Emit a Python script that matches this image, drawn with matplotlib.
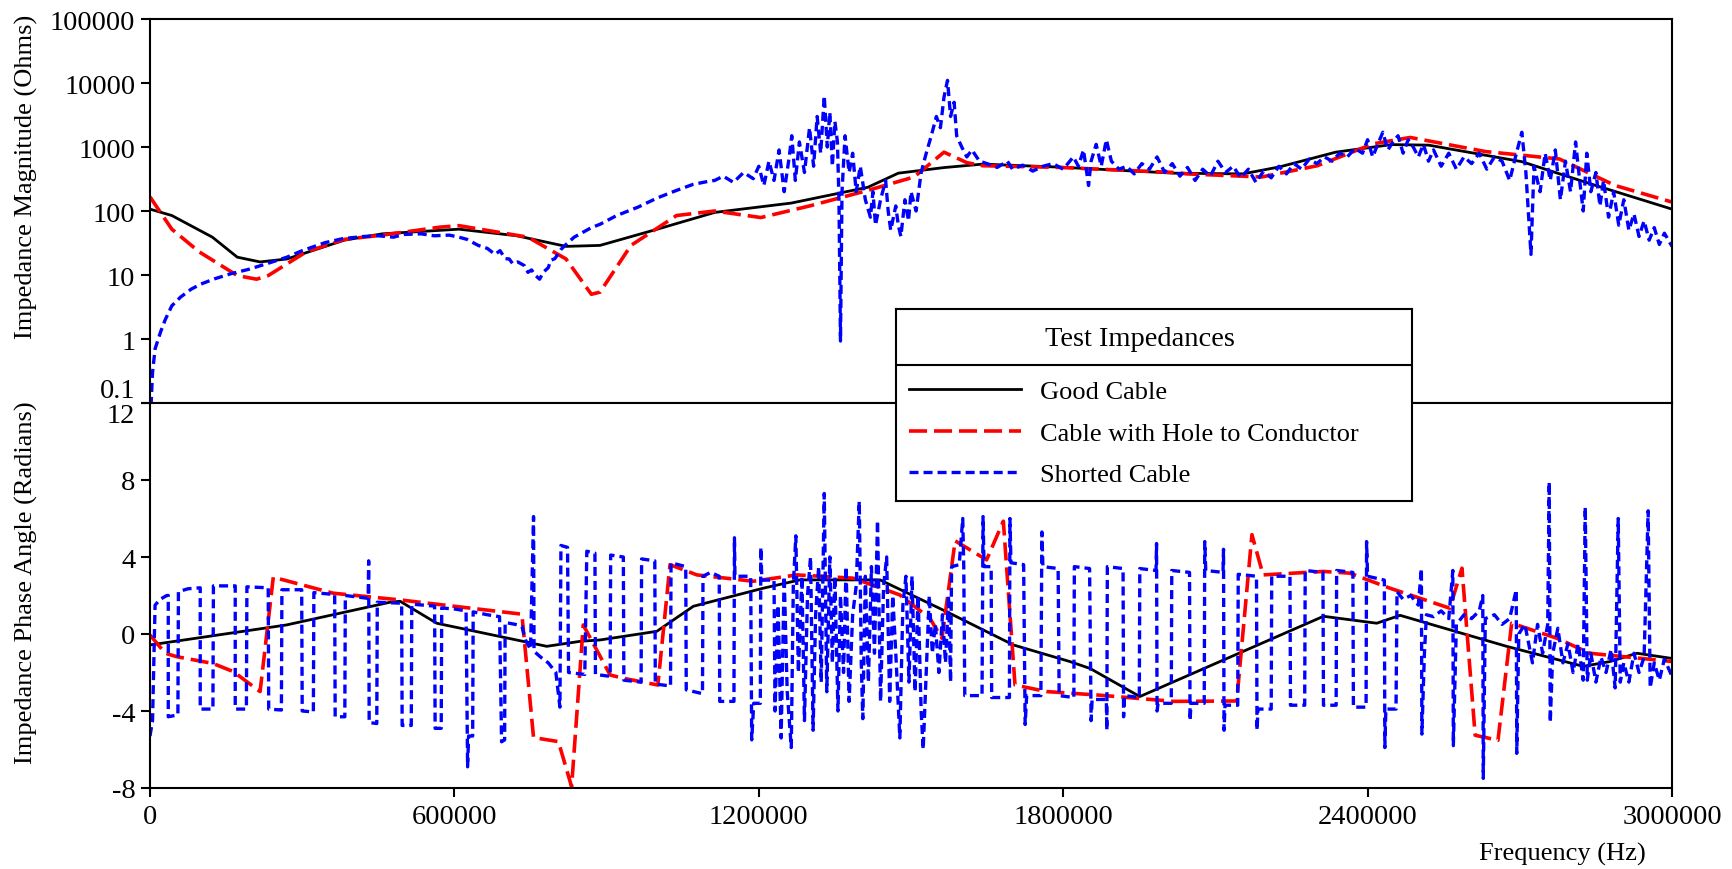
import matplotlib
matplotlib.use("Agg")
import matplotlib.pyplot as plt

plt.rcParams['font.family'] = ['Liberation Serif', 'DejaVu Serif']
plt.rcParams['lines.scale_dashes'] = False

# ---------------- data (frequency in kHz) ----------------
series_labels = ["Good Cable", "Cable with Hole to Conductor", "Shorted Cable"]
legend_title = "Test Impedances"
x_label = "Frequency (Hz)"
mag_label = "Impedance Magnitude (Ohms)"
phase_label = "Impedance Phase Angle (Radians)"

mag_ticks = [0.1, 1, 10, 100, 1000, 10000, 100000]
mag_tick_labels = ["0.1", "1", "10", "100", "1000", "10000", "100000"]
phase_ticks = [-8, -4, 0, 4, 8, 12]
freq_ticks = [0, 600000, 1200000, 1800000, 2400000, 3000000]

good_mag = [(0, 107), (43, 85), (123, 39), (172, 19), (217, 16), (270, 17.8), (383, 35),
            (458, 44), (609, 52), (723, 41), (820, 28), (887, 29), (1000, 52), (1113, 95),
            (1264, 133), (1415, 235), (1475, 390), (1565, 477), (1641, 540), (1792, 485),
            (2018, 390), (2154, 380), (2227, 490), (2337, 830), (2447, 1090), (2520, 1070),
            (2704, 590), (2850, 250), (3000, 107)]

hole_mag = [(0, 166), (43, 52), (97, 23), (172, 9.8), (210, 8.6), (233, 9.8), (308, 23),
            (383, 36), (458, 42), (572, 56), (609, 59), (745, 39), (820, 17.8), (870, 5.0),
            (887, 5.4), (948, 29), (1038, 85), (1113, 100), (1204, 79), (1302, 121),
            (1415, 210), (1506, 340), (1565, 830), (1610, 570), (1641, 510), (1792, 480),
            (2018, 400), (2044, 380), (2191, 340), (2301, 510), (2411, 1120), (2484, 1410),
            (2632, 850), (2778, 650), (2888, 250), (3000, 138)]

short_mag = [(2, 0.09), (5, 0.3), (10, 0.7), (21, 1.3), (30, 2.0), (43, 3.3), (60, 4.5),
             (81, 6.0), (100, 7.2), (127, 8.7), (160, 10.5), (195, 12.3), (230, 15),
             (270, 19), (300, 24), (345, 32), (380, 37), (421, 40), (450, 41), (480, 39),
             (500, 43), (534, 44), (560, 41), (590, 42), (609, 39), (625, 36), (647, 29),
             (665, 26), (680, 21), (690, 24), (700, 18), (708, 17.8), (715, 15), (725, 16),
             (738, 14), (745, 11), (752, 12), (760, 9.8), (768, 8.6), (775, 11), (785, 13),
             (790, 17), (798, 18), (810, 25), (820, 30), (836, 39), (850, 45), (870, 55),
             (887, 62), (920, 85), (962, 115), (1000, 160), (1038, 210), (1070, 260),
             (1100, 290), (1113, 300), (1130, 350), (1150, 280), (1170, 400), (1189, 320),
             (1200, 500), (1210, 250), (1220, 600), (1230, 300), (1240, 900), (1250, 200),
             (1260, 700), (1265, 1500), (1272, 300), (1280, 1200), (1290, 400), (1300, 2000),
             (1308, 500), (1315, 3000), (1322, 800), (1329, 6300), (1335, 1000), (1340, 3500),
             (1345, 500), (1350, 2500), (1355, 1200), (1358, 150), (1361, 0.93), (1364, 200),
             (1370, 1500), (1378, 400), (1385, 800), (1392, 200), (1400, 500), (1410, 150),
             (1420, 80), (1425, 200), (1430, 60), (1440, 150), (1450, 300), (1455, 100),
             (1460, 50), (1470, 120), (1475, 60), (1480, 40), (1488, 150), (1495, 70),
             (1500, 200), (1510, 100), (1520, 400), (1530, 800), (1540, 1500), (1550, 3000),
             (1558, 2000), (1565, 6000), (1572, 11000), (1578, 3000), (1585, 5000),
             (1590, 1500), (1600, 1000), (1610, 700), (1620, 900), (1635, 600), (1650, 550),
             (1670, 480), (1690, 600), (1700, 450), (1720, 520), (1740, 420), (1760, 500),
             (1780, 550), (1800, 450), (1820, 700), (1830, 500), (1840, 900), (1850, 250),
             (1855, 600), (1865, 1100), (1875, 500), (1885, 1300), (1895, 600), (1910, 450),
             (1925, 500), (1940, 380), (1955, 550), (1970, 450), (1985, 700), (2000, 400),
             (2015, 550), (2030, 350), (2045, 480), (2060, 300), (2075, 450), (2090, 350),
             (2105, 600), (2120, 400), (2135, 500), (2150, 330), (2165, 450), (2180, 280),
             (2195, 420), (2210, 330), (2225, 500), (2240, 380), (2255, 550), (2270, 450),
             (2285, 650), (2300, 550), (2315, 700), (2330, 600), (2345, 800), (2360, 700),
             (2375, 950), (2390, 800), (2400, 1300), (2410, 700), (2420, 1100), (2430, 1700),
             (2440, 900), (2450, 1200), (2460, 1500), (2470, 800), (2480, 1300), (2490, 1000),
             (2500, 700), (2510, 1100), (2520, 600), (2530, 900), (2545, 500), (2560, 800),
             (2575, 450), (2590, 700), (2605, 550), (2620, 800), (2635, 450), (2650, 700),
             (2665, 600), (2680, 300), (2695, 900), (2704, 1700), (2712, 400), (2722, 21),
             (2728, 500), (2740, 200), (2750, 800), (2760, 300), (2770, 900), (2780, 150),
             (2790, 600), (2800, 200), (2810, 1200), (2818, 300), (2825, 100), (2832, 800),
             (2840, 200), (2850, 400), (2858, 120), (2865, 300), (2875, 80), (2885, 200),
             (2895, 60), (2905, 150), (2915, 50), (2925, 90), (2935, 40), (2945, 70),
             (2955, 35), (2965, 55), (2975, 30), (2985, 45), (3000, 28)]

good_phase = [(0, -0.57), (269, 0.47), (473, 1.65), (493, 1.7), (565, 0.56), (782, -0.64),
              (848, -0.38), (887, -0.31), (999, 0.14), (1071, 1.44), (1209, 2.38),
              (1281, 2.81), (1439, 2.81), (1570, 1.16), (1702, -0.57), (1813, -1.43),
              (1853, -1.79), (1951, -3.25), (2313, 0.92), (2418, 0.56), (2464, 0.97),
              (2674, -0.64), (2825, -1.68), (2878, -1.43), (2931, -1.0), (3000, -1.27)]

hole_phase = [(0, -0.05), (30, -1.0), (53, -1.18), (124, -1.53), (164, -1.95), (217, -2.99),
              (243, 2.95), (361, 2.12), (493, 1.77), (733, 1.03), (756, -5.38), (805, -5.59),
              (831, -7.93), (854, 0.47), (907, -2.13), (933, -2.3), (1001, -2.65),
              (1025, 3.6), (1078, 3.07), (1189, 2.74), (1275, 3.07), (1386, 2.9), (1478, 2.03),
              (1537, 0.82), (1561, -0.22), (1587, 4.84), (1649, 3.85), (1682, 5.86),
              (1705, -2.65), (1767, -2.99), (1873, -3.18), (2017, -3.5), (2142, -3.48),
              (2172, 5.16), (2194, 3.07), (2313, 3.25), (2365, 3.16), (2444, 2.38),
              (2562, 1.34), (2586, 3.42), (2612, -5.26), (2657, -5.52), (2684, 0.56),
              (2773, -0.22), (2838, -1.0), (3000, -1.43)]

short_phase = [(0, -5.3), (5, -4.5), (10, 1.5), (20, 1.8), (33, 2.0), (36, 2.0), (36, -4.3),
               (55, -4.2), (56, 2.2), (75, 2.35), (99, 2.4), (99, -3.9), (124, -3.9),
               (125, 2.5), (168, 2.5), (168, -3.9), (190, -3.9), (191, 2.45), (233, 2.4),
               (234, -3.9), (259, -3.95), (260, 2.3), (299, 2.3), (300, -4.0), (322, -4.05),
               (323, 2.15), (364, 2.05), (365, -4.3), (384, -4.3), (385, 2.0), (430, 1.85),
               (431, 3.8), (432, -4.6), (447, -4.65), (448, 1.65), (496, 1.6), (497, -4.75),
               (515, -4.75), (516, 1.55), (561, 1.45), (562, -4.9), (574, -4.9), (575, 1.35),
               (600, 1.3), (623, 1.2), (626, -6.9), (628, -5.3), (636, -5.3), (637, 1.15),
               (665, 1.0), (689, 0.9), (693, -5.6), (699, -5.5), (700, 0.6), (720, 0.5),
               (733, 0.4), (740, -0.3), (750, -0.8), (756, 6.1), (757, -0.9), (770, -1.2),
               (785, -1.5), (800, -2.0), (808, -3.8), (810, 4.6), (823, 4.5), (825, -2.0),
               (857, -2.1), (861, 4.3), (877, 4.2), (878, -2.1), (907, -2.2), (908, 4.1),
               (933, 4.0), (934, -2.4), (968, -2.5), (969, 3.9), (995, 3.8), (996, -2.6),
               (1026, -2.7), (1027, 3.7), (1056, 3.5), (1057, -2.9), (1089, -3.1), (1090, 3.0),
               (1105, 3.2), (1122, 3.0), (1123, -3.5), (1151, -3.5), (1152, 5.0), (1153, 3.0),
               (1184, 3.0), (1186, -5.5), (1190, -3.6), (1203, -3.6), (1204, 4.5), (1206, 2.8),
               (1230, 2.8), (1232, -4.0), (1238, 1.5), (1244, -5.4), (1250, 3.0), (1256, -3.0),
               (1264, -5.9), (1268, 2.5), (1273, 5.1), (1278, -2.0), (1285, 3.0), (1290, -4.5),
               (1296, 2.0), (1302, 4.0), (1307, -5.0), (1312, 1.0), (1318, 3.5), (1323, -2.5),
               (1329, 7.3), (1334, -3.0), (1340, 4.0), (1345, -1.5), (1350, 3.0), (1356, -4.0),
               (1361, 2.0), (1367, -2.0), (1372, 3.5), (1378, -3.5), (1385, 1.0), (1392, 2.5),
               (1398, 6.9), (1402, -1.5), (1405, -4.4), (1410, 3.0), (1416, -2.5), (1422, 3.5),
               (1428, -1.0), (1434, 5.9), (1440, -3.5), (1446, 2.5), (1452, 4.0), (1458, -3.5),
               (1464, 2.0), (1470, -1.0), (1478, -5.4), (1484, 1.5), (1490, 3.0), (1496, -2.5),
               (1502, 3.0), (1508, -3.0), (1514, 2.0), (1520, -4.0), (1524, -6.0), (1530, -2.0),
               (1536, 2.0), (1542, -1.0), (1548, 0.5), (1555, -2.0), (1562, 1.0), (1568, -1.5),
               (1574, 2.0), (1578, -2.5), (1580, 3.5), (1595, 3.6), (1602, 6.0), (1604, 3.5),
               (1606, -3.2), (1640, -3.2), (1642, 6.1), (1644, 3.5), (1658, 3.5), (1659, -3.3),
               (1694, -3.3), (1695, 6.0), (1697, 3.7), (1722, 3.6), (1725, -4.7), (1728, -3.2),
               (1756, -3.2), (1758, 5.3), (1760, 3.5), (1790, 3.4), (1792, -3.2), (1821, -3.3),
               (1822, 3.5), (1852, 3.4), (1855, -4.5), (1857, -3.4), (1885, -3.4), (1886, -5.0),
               (1887, 3.5), (1918, 3.4), (1919, -4.3), (1921, -3.2), (1950, -3.3), (1951, 3.4),
               (1983, 3.3), (1984, 4.7), (1985, -4.0), (1987, -3.6), (2013, -3.6), (2014, 3.3),
               (2049, 3.2), (2050, -4.5), (2052, -3.6), (2078, -3.6), (2079, 4.8), (2081, 3.3),
               (2115, 3.2), (2116, 4.4), (2117, -5.0), (2119, -3.7), (2144, -3.7), (2145, 3.1),
               (2181, 3.0), (2182, -5.0), (2184, -3.9), (2210, -3.9), (2211, 3.0), (2247, 3.0),
               (2248, -3.7), (2276, -3.7), (2277, 3.3), (2312, 3.2), (2313, -3.7), (2338, -3.7),
               (2339, 3.3), (2371, 3.2), (2372, -3.8), (2397, -3.8), (2398, 4.8), (2400, 3.0),
               (2433, 2.8), (2434, -5.9), (2436, -3.9), (2456, -3.9), (2458, 2.2), (2470, 1.8),
               (2485, 2.0), (2500, 1.5), (2506, 3.4), (2507, -5.2), (2512, -1.0), (2516, 1.0),
               (2530, 0.9), (2545, 1.2), (2560, 0.8), (2568, 3.3), (2569, -5.8), (2575, 0.5),
               (2590, 1.0), (2605, 0.8), (2620, 1.2), (2627, 2.0), (2628, -7.5), (2632, 0.8),
               (2650, 1.0), (2665, 0.5), (2680, 0.8), (2693, 2.3), (2694, -6.2), (2698, 0.0),
               (2710, 0.5), (2725, -1.5), (2735, 0.5), (2745, -1.0), (2755, 0.5), (2758, 7.9),
               (2760, -4.6), (2765, -1.0), (2775, 0.3), (2785, -1.5), (2795, -0.5), (2805, -2.0),
               (2815, -0.5), (2825, -2.4), (2829, 6.6), (2833, -2.4), (2840, -1.0), (2850, -2.5),
               (2860, -1.2), (2870, -2.0), (2880, -0.8), (2888, -2.8), (2894, 6.0), (2898, -2.5),
               (2905, -1.5), (2915, -2.5), (2925, -1.0), (2935, -2.0), (2945, -1.2), (2953, 6.4),
               (2957, -2.8), (2965, -1.5), (2975, -2.4), (2985, -1.3), (3000, -2.2)]

# ---------------- figure ----------------
W, H = 1733, 870
fig = plt.figure(figsize=(W / 100, H / 100), dpi=100)
L, R = 150, 1672
ax1 = fig.add_axes([L / W, 1 - 404 / H, (R - L) / W, 384 / H])
ax2 = fig.add_axes([L / W, 1 - 789 / H, (R - L) / W, 385 / H])


def fx(pts):
    return [p[0] * 1000 for p in pts]


def fy(pts):
    return [p[1] for p in pts]


st_good = dict(color="black", lw=2.0, ls="-")
st_hole = dict(color="#ff0000", lw=2.6, ls=(0, (13, 5)))
st_short = dict(color="#0000ff", lw=2.4, ls=(0, (6.5, 3.6)))

ax1.plot(fx(good_mag), fy(good_mag), **st_good)
ax1.plot(fx(hole_mag), fy(hole_mag), **st_hole)
ax1.plot(fx(short_mag), fy(short_mag), **st_short)

l1, = ax2.plot(fx(good_phase), fy(good_phase), **st_good)
l2, = ax2.plot(fx(hole_phase), fy(hole_phase), **st_hole)
l3, = ax2.plot(fx(short_phase), fy(short_phase), **st_short)

TICK_FS = 20.5
LAB_FS = 19

for ax in (ax1, ax2):
    ax.set_xlim(0, 3000000)
    for s in ax.spines.values():
        s.set_linewidth(1.5)
    ax.tick_params(axis="both", which="major", direction="out", length=6.5, width=1.5,
                   labelsize=TICK_FS, right=False, top=False)
    ax.tick_params(axis="y", pad=4)
    ax.tick_params(axis="x", pad=5)

ax1.set_yscale("log")
ax1.set_ylim(0.1, 100000)
ax1.set_yticks(mag_ticks, mag_tick_labels)
ax1.yaxis.set_minor_locator(plt.NullLocator())
ax1.tick_params(axis="x", bottom=False, labelbottom=False)
ax1.set_xticks(freq_ticks)

ax2.set_ylim(-8, 12)
ax2.set_yticks(phase_ticks, [str(t) for t in phase_ticks])
ax2.set_xticks(freq_ticks, [str(t) for t in freq_ticks])

ax1.yaxis.get_major_ticks()[0].label1.set_verticalalignment("bottom")
ax2.yaxis.get_major_ticks()[-1].label1.set_verticalalignment("top")

ax1.set_ylabel(mag_label, fontsize=LAB_FS)
ax1.yaxis.label.set_verticalalignment("center")
ax1.yaxis.set_label_coords(-0.081, 0.591)
ax2.set_ylabel(phase_label, fontsize=LAB_FS)
ax2.yaxis.label.set_verticalalignment("center")
ax2.yaxis.set_label_coords(-0.081, 0.535)
ax2.set_xlabel(x_label, fontsize=LAB_FS)
ax2.xaxis.label.set_verticalalignment("center")
ax2.xaxis.set_label_coords(0.928, -0.171)

# ---------------- legend box ----------------
lx0, lx1, ly0, ly1 = 896, 1412, 310, 502
lax = fig.add_axes([lx0 / W, 1 - ly1 / H, (lx1 - lx0) / W, (ly1 - ly0) / H], zorder=5)
lax.set_facecolor("white")
lax.set_xticks([])
lax.set_yticks([])
for s in lax.spines.values():
    s.set_linewidth(1.5)
lax.axhline((ly1 - 366) / (ly1 - ly0), color="black", lw=1.5)
lax.text(0.472, (ly1 - 340) / (ly1 - ly0), legend_title, fontsize=TICK_FS,
         ha="center", va="center", transform=lax.transAxes)
lax.legend(handles=[l1, l2, l3], labels=series_labels, loc="upper left",
           bbox_to_anchor=(0.0245, (ly1 - 381) / (ly1 - ly0)), frameon=False,
           fontsize=LAB_FS, handlelength=4.24, handletextpad=0.75, labelspacing=0.68,
           borderpad=0, borderaxespad=0)

fig.savefig("out.png", dpi=100)
